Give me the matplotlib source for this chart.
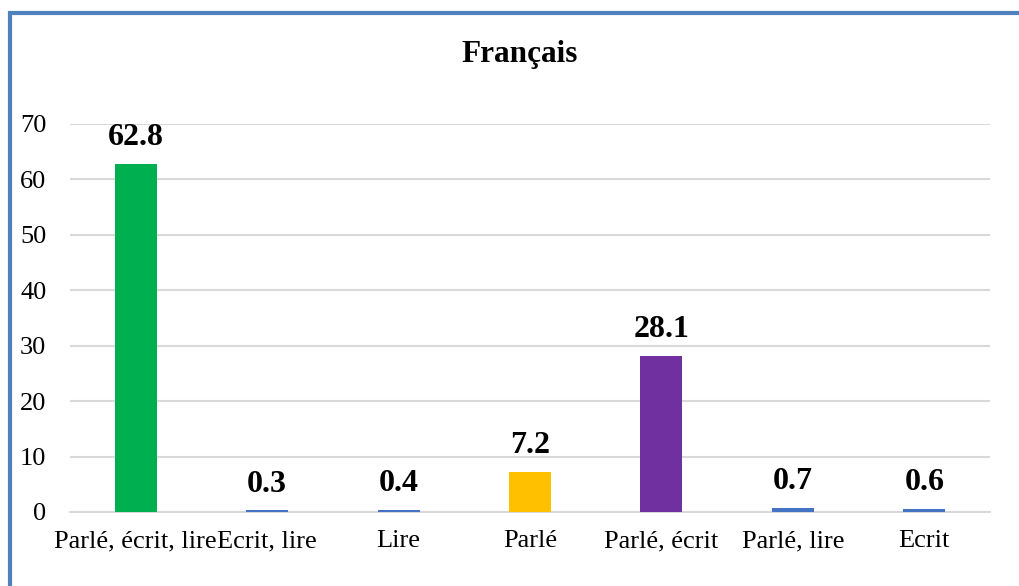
import matplotlib
matplotlib.use("Agg")
import matplotlib.pyplot as plt
from matplotlib.patches import Rectangle

categories = ["Parlé, écrit, lire", "Ecrit, lire", "Lire", "Parlé", "Parlé, écrit", "Parlé, lire", "Ecrit"]
values = [62.8, 0.3, 0.4, 7.2, 28.1, 0.7, 0.6]
colors = ["#00B050", "#4472C4", "#4472C4", "#FFC000", "#7030A0", "#4472C4", "#4472C4"]
yticks = [0, 10, 20, 30, 40, 50, 60, 70]
title = "Français"

plt.rcParams['font.family'] = ['Liberation Serif', 'DejaVu Serif']

fig = plt.figure(figsize=(10.2, 5.86), dpi=100)
ax = fig.add_axes([70/1020, 1-512/586, 920/1020, (512-124)/586])

x = list(range(len(categories)))
ax.bar(x, values, width=0.32, color=colors, zorder=3)
ax.set_xlim(-0.5, len(categories)-0.5)
ax.set_ylim(0, 70)
ax.set_yticks(yticks)
ax.set_yticklabels([str(t) for t in yticks], fontsize=19)
ax.set_xticks(x)
ax.set_xticklabels(categories, fontsize=19)
ax.tick_params(axis='y', length=0, pad=17)
ax.tick_params(axis='x', length=0, pad=13)
ax.grid(axis='y', color='#D9D9D9', linewidth=1.5, zorder=0)
for s in ['top', 'right', 'left']:
    ax.spines[s].set_visible(False)
ax.spines['bottom'].set_color('#D9D9D9')
ax.spines['bottom'].set_linewidth(1.5)

for xi, v in zip(x, values):
    ax.annotate(f"{v:.1f}", (xi, v), xytext=(0, 13.5), textcoords='offset points',
                ha='center', va='baseline', fontsize=23, fontweight='bold')

fig.text(520/1020, 1-62/586, title, ha='center', va='baseline', fontsize=22.5, fontweight='bold')

# border (left and top visible)
fig.patches.append(Rectangle((10/1020, -0.1), 1.2, 1-12.5/586+0.1, transform=fig.transFigure,
                             fill=False, edgecolor='#4F81BD', linewidth=3))

fig.savefig("out.png", dpi=100)
